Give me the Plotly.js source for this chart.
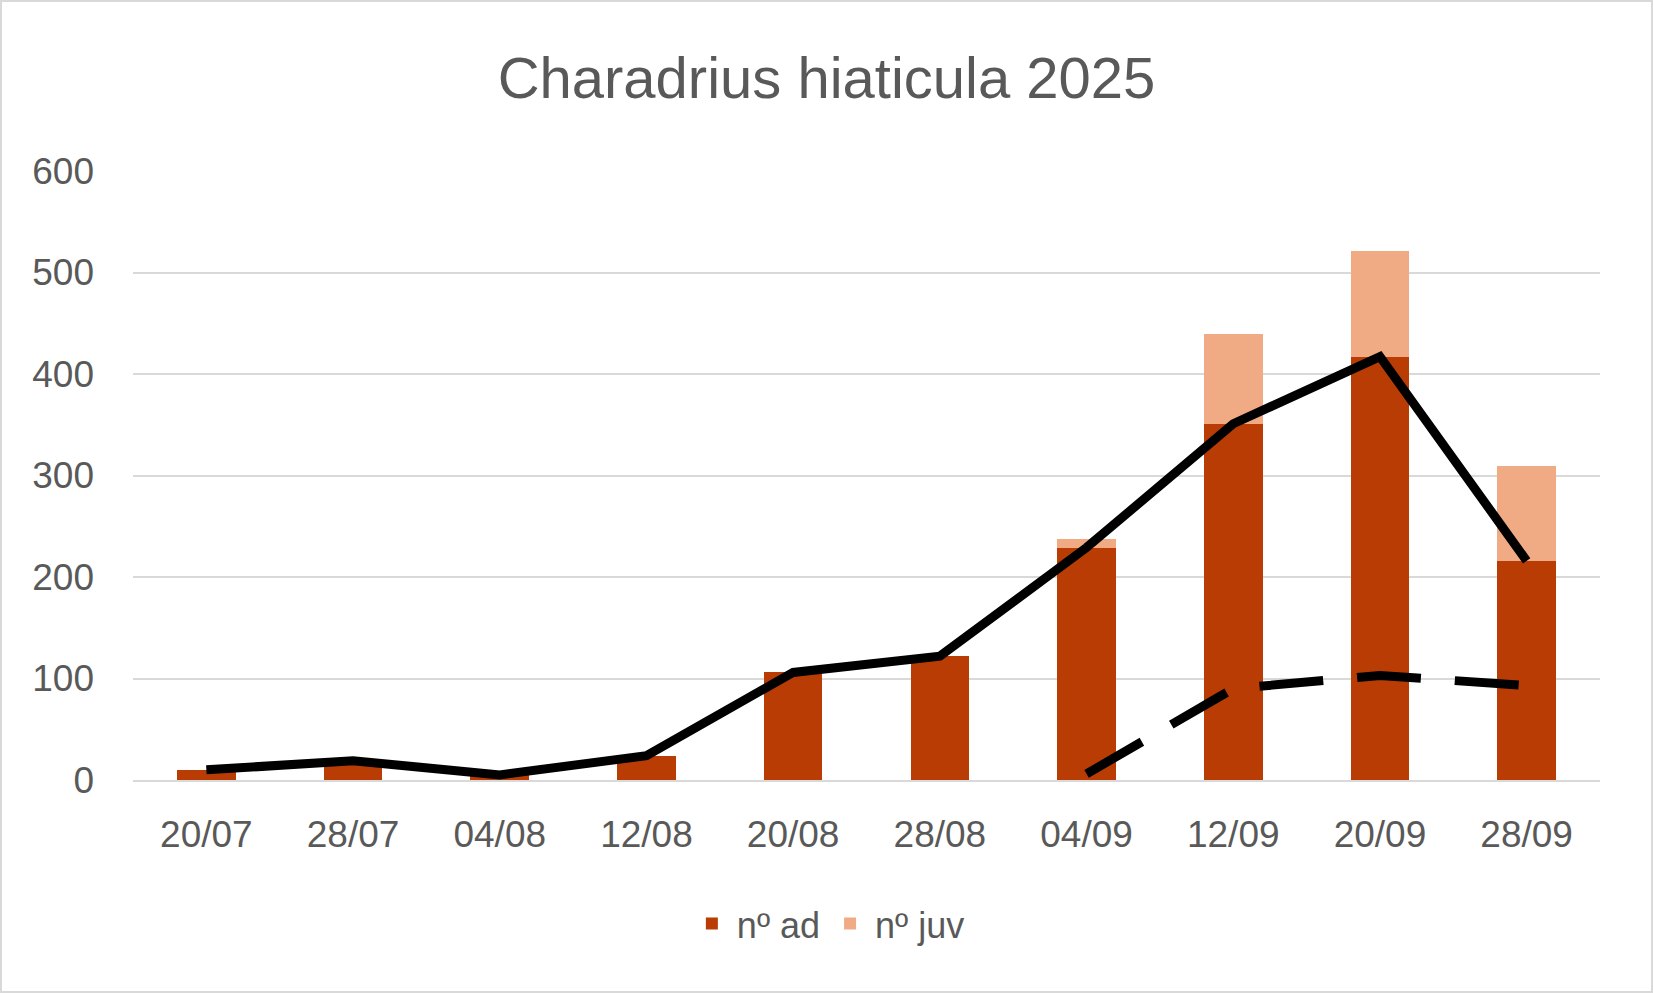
<!DOCTYPE html>
<html>
<head>
<meta charset="utf-8">
<script src="https://cdn.plot.ly/plotly-3.0.1.min.js"></script>
<style>
  html, body { margin: 0; padding: 0; background: #fff; }
  #chart { width: 1653px; height: 993px; box-sizing: border-box; border: 2px solid #d9d9d9; }
</style>
</head>
<body>
<div id="chart"></div>
<script>
    var dates = ['20/07', '28/07', '04/08', '12/08', '20/08', '28/08', '04/09', '12/09', '20/09', '28/09'];
    var nAd  = [10, 19, 5, 24, 106, 122, 229, 351, 417, 216];
    var nJuv = [0, 0, 0, 0, 0, 0, 8, 88, 104, 93];
    // dashed juvenile line only starts in september
    var juvLine = [null, null, null, null, null, null, 6, 90, 103, 93];

    var textColor = '#595959';
    var font = 'Liberation Sans, Arial, sans-serif';

    var data = [
        {x: dates, y: nAd, type: 'bar', name: 'nº ad',
         marker: {color: '#b83c04'}, hoverinfo: 'y'},
        {x: dates, y: nJuv, type: 'bar', name: 'nº juv',
         marker: {color: '#f1ab84'}, hoverinfo: 'y'},
        {x: dates, y: nAd, type: 'scatter', mode: 'lines', showlegend: false,
         line: {color: '#000', width: 9}},
        {x: dates, y: juvLine, type: 'scatter', mode: 'lines', showlegend: false,
         line: {color: '#000', width: 9, dash: '64px,34px'}}
    ];

    var layout = {
        width: 1649, height: 989,
        title: {text: 'Charadrius hiaticula 2025', x: 0.5, xanchor: 'center',
                y: 0.923, yanchor: 'middle',
                font: {family: font, size: 58, color: textColor}},
        barmode: 'stack',
        bargap: 0.6,
        margin: {l: 131, r: 51, t: 169, b: 211},
        paper_bgcolor: '#fff',
        plot_bgcolor: '#fff',
        xaxis: {type: 'category', showgrid: false, showline: true, linecolor: '#d9d9d9',
                linewidth: 2, ticks: '', ticklabelstandoff: 21,
                tickfont: {family: font, size: 37, color: textColor}},
        yaxis: {range: [0, 600], dtick: 100, gridcolor: '#d9d9d9', gridwidth: 2,
                zeroline: false, showline: false, ticks: '', ticklabelstandoff: 38,
                tickfont: {family: font, size: 37, color: textColor}},
        legend: {orientation: 'h', x: 0.474, xanchor: 'center', y: -0.236, yanchor: 'middle',
                 font: {family: font, size: 36, color: textColor}, traceorder: 'normal',
                 itemwidth: 40},
        showlegend: true
    };
    var config = {responsive: false, displayModeBar: false};
    Plotly.newPlot('chart', data, layout, config);
</script>
</body>
</html>
